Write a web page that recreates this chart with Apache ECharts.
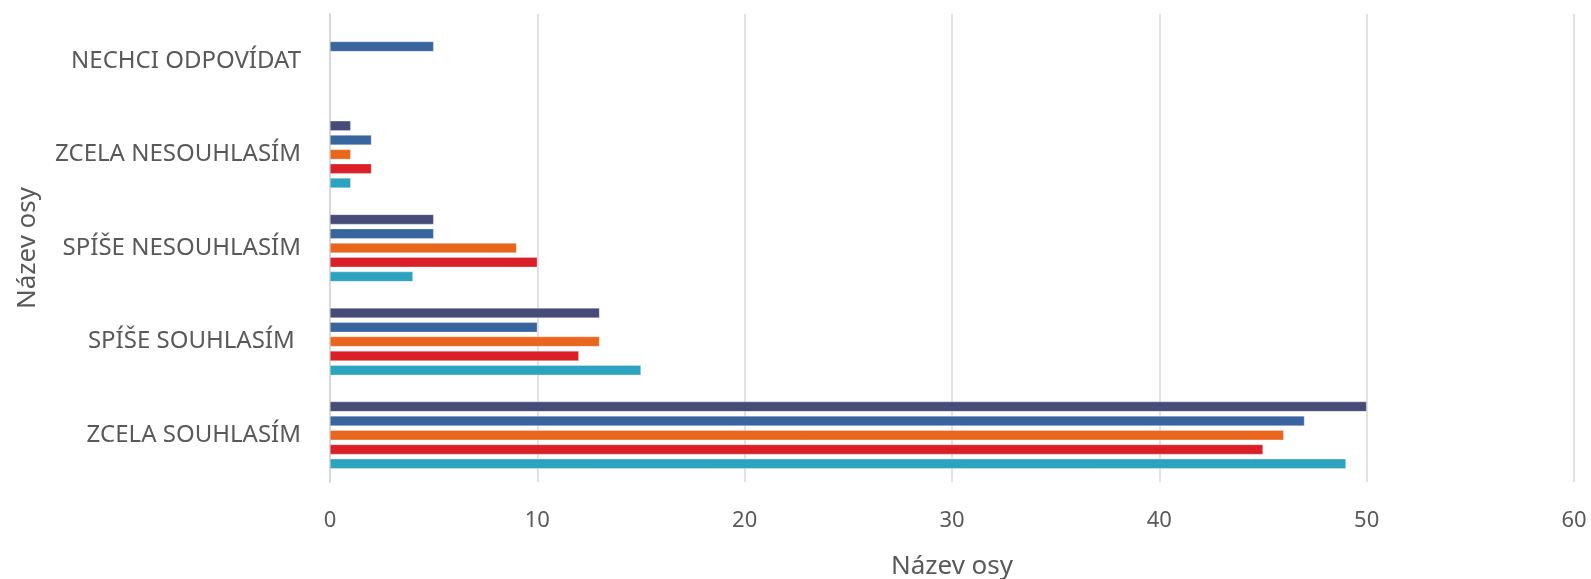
<!DOCTYPE html>
<html>
<head>
<meta charset="utf-8">
<script src="https://cdn.jsdelivr.net/npm/echarts@6/dist/echarts.min.js"></script>
<style>
  html, body { margin: 0; padding: 0; background: #fff; }
  #chart { width: 1591px; height: 579px; }
</style>
</head>
<body>
<div id="chart"></div>
<script>
// categories from bottom to top
const categories = ['ZCELA SOUHLASÍM', 'SPÍŠE SOUHLASÍM ', 'SPÍŠE NESOUHLASÍM', 'ZCELA NESOUHLASÍM', 'NECHCI ODPOVÍDAT'];

// series, top bar to bottom bar in each group
const series1 = [50, 13, 5, 1, null];
const series2 = [47, 10, 5, 2, 5];
const series3 = [46, 13, 9, 1, null];
const series4 = [45, 12, 10, 2, null];
const series5 = [49, 15, 4, 1, null];

const xTicks = { min: 0, max: 60, interval: 10 };

const colors = ['#474b78', '#38659e', '#e9661f', '#da1f29', '#2ca3bf'];
const seriesNames = ['Řada 1', 'Řada 2', 'Řada 3', 'Řada 4', 'Řada 5'];
const seriesData = [series1, series2, series3, series4, series5];

let myChart = echarts.init(document.getElementById('chart'));

let option = {
  animation: false,
  textStyle: {
    fontFamily: '"Noto Sans", sans-serif'
  },
  grid: {
    left: 330,
    right: 17,
    top: 14,
    bottom: 97,
    outerBoundsMode: 'none'
  },
  xAxis: {
    type: 'value',
    min: xTicks.min,
    max: xTicks.max,
    interval: xTicks.interval,
    name: 'Název osy',
    nameLocation: 'middle',
    nameGap: 72,
    nameTextStyle: {
      color: '#595959',
      fontSize: 26
    },
    axisLine: { show: false },
    axisTick: { show: false },
    axisLabel: {
      color: '#595959',
      fontSize: 22,
      margin: 28
    },
    splitLine: {
      lineStyle: {
        color: '#d9d9d9',
        width: 1.5
      }
    }
  },
  yAxis: {
    type: 'category',
    data: categories,
    name: 'Název osy',
    nameLocation: 'middle',
    nameGap: 289,
    nameTextStyle: {
      color: '#595959',
      fontSize: 26
    },
    axisLine: {
      lineStyle: {
        color: '#d9d9d9',
        width: 2
      }
    },
    axisTick: {
      length: 8,
      lineStyle: {
        color: '#d9d9d9',
        width: 2
      }
    },
    axisLabel: {
      color: '#595959',
      fontSize: 24,
      margin: 29
    }
  },
  series: seriesData.map((d, i) => ({
    name: seriesNames[i],
    type: 'bar',
    data: d,
    barWidth: 10,
    barGap: '43%',
    itemStyle: {
      color: colors[i],
      borderColor: 'rgba(255,255,255,0.6)',
      borderWidth: 0.5
    }
  }))
};

myChart.setOption(option, true);

window.addEventListener('resize', () => {
  myChart.resize();
});
</script>
</body>
</html>
